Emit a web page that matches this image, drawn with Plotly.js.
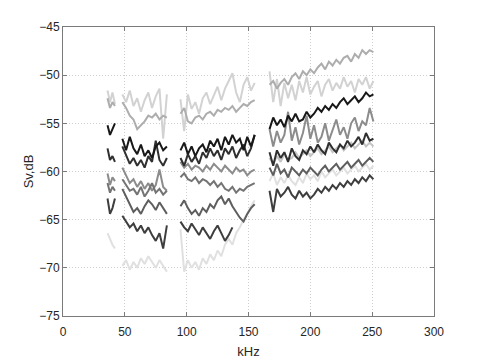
<!DOCTYPE html>
<html>
<head>
<meta charset="utf-8">
<script src="https://cdn.plot.ly/plotly-3.0.1.min.js"></script>
<style>html,body{margin:0;padding:0;background:#fff;}#chart{width:480px;height:360px;}</style>
</head>
<body>
<div id="chart"></div>
<script>
// frequency grids (kHz) for the four transducer bands
const kHzA = [36, 38, 40, 42];
const kHzB = [48, 51, 54, 57, 60, 63, 66, 69, 72, 75, 78, 81, 84];
const kHzC = [95, 98, 101, 104, 107, 110, 113, 116, 119, 122, 125, 128, 131, 134, 137, 140, 143, 146, 149, 152, 155];
const kHzD = [167, 170, 173, 176, 179, 182, 185, 188, 191, 194, 197, 200, 203, 206, 209, 212, 215, 218, 221, 224, 227, 230, 233, 236, 239, 242, 245, 248, 251];

// Sv (dB) per series, per band
const s1A = [-51.6, -52.8, -51.8, -53.0];
const s1B = [-52.0, -52.8, -51.6, -53.2, -52.4, -53.8, -52.6, -51.8, -53.4, -52.2, -51.4, -56.6, -52.0];
const s1C = [-52.5, -55.8, -52.0, -53.5, -52.8, -54.0, -52.4, -51.8, -53.0, -52.0, -51.2, -52.6, -51.4, -50.6, -49.8, -51.8, -52.8, -51.0, -50.2, -51.6, -50.8];
const s1D = [-49.6, -52.8, -50.4, -53.2, -50.8, -52.4, -51.0, -52.6, -50.6, -51.8, -50.2, -52.0, -51.2, -50.6, -52.2, -51.0, -50.4, -51.6, -50.8, -51.4, -50.2, -51.2, -50.6, -51.8, -50.4, -51.0, -50.2, -51.4, -50.6];

const s2A = [-52.4, -53.4, -52.8, -53.2];
const s2B = [-52.8, -53.4, -54.2, -54.6, -55.6, -55.2, -54.8, -54.2, -54.4, -54.0, -54.6, -54.2, -54.4];
const s2C = [-54.0, -53.4, -54.8, -55.0, -54.4, -54.2, -54.6, -54.0, -53.8, -54.2, -53.6, -53.8, -53.4, -53.6, -53.2, -53.8, -53.4, -53.0, -53.2, -52.8, -52.6];
const s2D = [-51.0, -50.6, -51.4, -50.8, -50.4, -51.0, -50.2, -49.8, -50.4, -49.6, -50.0, -49.4, -49.8, -49.2, -48.8, -49.4, -48.6, -49.0, -48.4, -48.8, -48.2, -48.0, -48.6, -47.8, -48.2, -47.4, -47.8, -47.4, -47.6];

const s3A = [-55.2, -56.2, -55.6, -55.0];
const s3B = [-56.6, -57.8, -56.4, -57.6, -58.2, -57.2, -58.4, -57.8, -58.6, -57.4, -57.0, -57.8, -57.4];
const s3C = [-57.8, -57.0, -58.2, -57.4, -58.4, -57.6, -57.2, -58.0, -56.8, -57.4, -56.6, -57.8, -56.4, -57.2, -56.2, -57.0, -56.6, -57.8, -56.4, -57.4, -56.2];
const s3D = [-55.6, -54.4, -55.2, -54.6, -55.4, -54.2, -54.8, -54.0, -54.8, -54.6, -53.8, -54.4, -54.0, -53.4, -53.8, -53.2, -53.6, -53.0, -53.4, -52.8, -52.4, -53.0, -52.6, -52.2, -52.8, -52.4, -51.8, -52.2, -52.0];

const s4A = [-57.6, -58.8, -58.4, -59.0];
const s4B = [-57.4, -58.4, -59.2, -58.6, -59.4, -58.8, -59.6, -58.4, -59.0, -56.8, -58.8, -59.4, -58.6];
const s4C = [-58.6, -59.4, -58.2, -59.0, -58.4, -59.2, -58.0, -58.6, -57.6, -58.4, -57.8, -58.8, -57.6, -58.2, -57.4, -58.6, -57.8, -57.2, -58.4, -57.6, -56.2];
const s4D = [-58.0, -59.4, -57.8, -58.6, -58.0, -59.0, -57.6, -58.4, -58.8, -57.8, -58.2, -57.4, -58.0, -57.2, -57.8, -58.2, -57.0, -57.6, -58.0, -57.2, -57.6, -56.8, -57.4, -57.0, -56.4, -57.2, -56.0, -56.8, -56.6];

const s5A = [-60.2, -61.4, -60.6, -61.0];
const s5B = [-59.6, -60.4, -61.2, -60.8, -61.6, -61.0, -61.8, -61.2, -62.0, -61.4, -59.8, -61.6, -62.0];
const s5C = [-59.0, -59.6, -59.2, -59.8, -59.4, -59.6, -60.0, -59.4, -59.8, -59.2, -59.6, -60.0, -59.4, -59.8, -60.2, -59.6, -60.0, -59.8, -60.4, -60.0, -59.8];
const s5D = [-55.6, -57.4, -55.8, -57.0, -56.2, -53.8, -56.8, -55.4, -57.2, -56.0, -54.2, -56.6, -55.2, -57.0, -56.4, -55.0, -56.8, -55.6, -54.6, -56.2, -55.4, -56.6, -55.0, -54.4, -55.8, -54.8, -55.2, -53.4, -54.8];

const s6A = [-61.2, -62.2, -61.6, -62.0];
const s6B = [-60.8, -61.4, -62.0, -61.8, -62.4, -61.6, -62.6, -62.0, -61.2, -62.2, -61.8, -62.4, -62.0];
const s6C = [-60.6, -60.2, -60.8, -61.0, -60.6, -61.2, -60.8, -61.0, -61.4, -61.0, -61.6, -61.2, -61.8, -62.0, -61.6, -62.2, -61.8, -62.0, -61.6, -61.4, -61.2];
const s6D = [];

const s7A = [];
const s7B = [-61.8, -62.6, -63.4, -64.2, -63.8, -64.4, -63.6, -63.0, -63.4, -64.0, -63.2, -63.8, -64.4];
const s7C = [-63.6, -63.0, -63.8, -64.4, -64.0, -64.6, -63.8, -64.2, -63.4, -63.8, -63.0, -62.6, -63.4, -62.8, -63.6, -64.2, -64.8, -65.2, -64.4, -63.8, -63.4];
const s7D = [-59.6, -60.4, -59.2, -60.2, -59.8, -60.6, -59.6, -60.0, -60.4, -59.8, -60.2, -59.6, -60.0, -60.4, -59.8, -59.4, -60.0, -59.6, -59.2, -59.8, -59.4, -59.0, -59.6, -59.2, -58.8, -59.4, -59.0, -58.6, -59.0];

const s8A = [-62.8, -64.4, -63.8, -62.8];
const s8B = [-64.6, -65.2, -65.8, -65.4, -66.2, -65.6, -66.4, -65.8, -66.6, -67.2, -66.4, -68.0, -65.6];
const s8C = [-65.2, -65.8, -66.2, -65.4, -66.0, -66.6, -65.8, -66.4, -67.0, -66.2, -65.6, -66.4, -67.2, -66.6, -65.8, null, null, null, null, null, null];
const s8D = [-62.0, -64.2, -61.8, -62.6, -62.2, -61.6, -62.4, -62.8, -62.0, -62.6, -62.2, -62.8, -62.4, -61.8, -62.2, -61.6, -62.0, -61.4, -61.8, -61.2, -61.6, -61.0, -61.4, -60.8, -61.2, -60.6, -61.0, -60.4, -60.8];

const s9A = [-66.4, -67.0, -67.6, -68.0];
const s9B = [-69.8, -69.2, -70.2, -69.4, -70.0, -69.0, -69.6, -68.8, -69.4, -70.0, -69.2, -69.8, -70.4];
const s9C = [-66.0, -70.4, -69.2, -70.0, -69.4, -70.2, -69.0, -69.6, -68.6, -69.2, -68.2, -68.8, -67.6, -67.0, -67.6, -66.4, -65.8, -65.0, -64.4, -63.6, -63.0];
const s9D = [-61.0, -60.2, -61.4, -60.6, -61.2, -60.4, -61.0, -61.4, -60.6, -61.2, -60.2, -60.8, -60.4, -61.0, -60.0, -60.6, -60.2, -59.8, -60.4, -60.0, -59.6, -60.2, -59.8, -59.4, -60.0, -59.6, -59.2, -59.8, -59.4];

const s10A = [];
const s10B = [];
const s10C = [];
const s10D = [-58.6, -59.2, -58.4, -59.0, -58.2, -58.8, -58.6, -58.0, -58.6, -58.2, -57.8, -58.4, -58.0, -57.6, -58.2, -57.8, -57.4, -58.0, -57.6, -57.2, -57.8, -57.4, -57.0, -57.6, -57.2, -56.8, -57.4, -57.0, -57.4];

const bandsX = [kHzA, kHzB, kHzC, kHzD];

function joinBands(segs) {
  const x = [], y = [];
  segs.forEach((s, i) => {
    if (!s.length) return;
    if (x.length) { x.push(null); y.push(null); }
    s.forEach((v, j) => { x.push(bandsX[i][j]); y.push(v); });
  });
  return {x, y};
}

const series = [
  {segs: [s9A, s9B, s9C, s9D], color: '#e0e0e0'},
  {segs: [s1A, s1B, s1C, s1D], color: '#d2d2d2'},
  {segs: [s10A, s10B, s10C, s10D], color: '#c4c4c4'},
  {segs: [s2A, s2B, s2C, s2D], color: '#adadad'},
  {segs: [s5A, s5B, s5C, s5D], color: '#8c8c8c'},
  {segs: [s6A, s6B, s6C, s6D], color: '#747474'},
  {segs: [s7A, s7B, s7C, s7D], color: '#5e5e5e'},
  {segs: [s8A, s8B, s8C, s8D], color: '#3e3e3e'},
  {segs: [s4A, s4B, s4C, s4D], color: '#303030'},
  {segs: [s3A, s3B, s3C, s3D], color: '#181818'}
];

const traces = series.map(s => {
  const d = joinBands(s.segs);
  return {x: d.x, y: d.y, type: 'scatter', mode: 'lines', connectgaps: false,
          line: {color: s.color, width: 2}, hoverinfo: 'skip', showlegend: false};
});

const tickFont = {family: 'Liberation Sans, Arial, sans-serif', size: 12, color: '#262626'};
const axisCommon = {
  showline: true, linecolor: '#7a7a7a', linewidth: 1, mirror: 'ticks',
  ticks: 'inside', ticklen: 4, tickcolor: '#7a7a7a',
  showgrid: true, gridcolor: '#cfcfcf', griddash: '1px,2px', gridwidth: 1,
  zeroline: false, tickfont: tickFont, fixedrange: true
};

const layout = {
  width: 480, height: 360,
  margin: {l: 63, r: 46, t: 27, b: 44},
  paper_bgcolor: '#ffffff', plot_bgcolor: '#ffffff',
  xaxis: Object.assign({}, axisCommon, {
    range: [0, 300], tickvals: [0, 50, 100, 150, 200, 250, 300],
    ticklabelstandoff: 5,
    title: {text: 'kHz', font: {family: 'Liberation Sans, Arial, sans-serif', size: 13, color: '#262626'}, standoff: 8}
  }),
  yaxis: Object.assign({}, axisCommon, {
    range: [-75, -45], tickvals: [-75, -70, -65, -60, -55, -50, -45],
    title: {text: 'Sv,dB', font: {family: 'Liberation Sans, Arial, sans-serif', size: 13, color: '#262626'}, standoff: 2}
  })
};

Plotly.newPlot('chart', traces, layout, {staticPlot: true, displayModeBar: false});
</script>
</body>
</html>
